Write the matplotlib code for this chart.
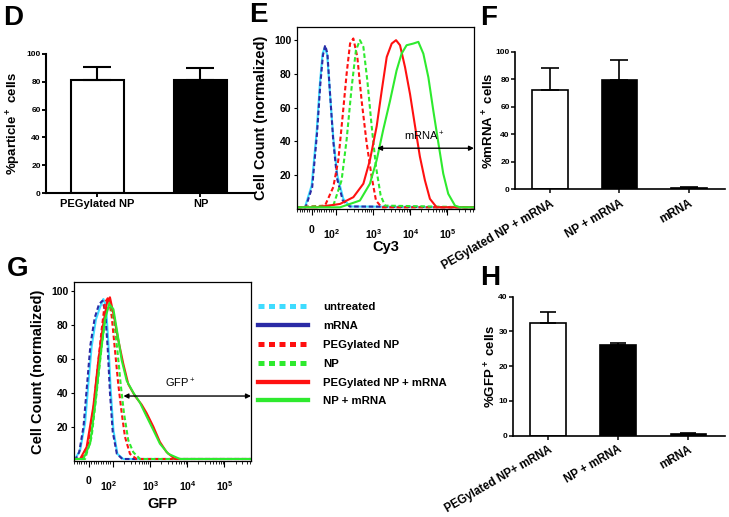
import numpy as np
import matplotlib.pyplot as plt
from matplotlib.lines import Line2D

plt.rcParams['font.family'] = ['Liberation Sans', 'DejaVu Sans']
plt.rcParams['font.weight'] = 'bold'
plt.rcParams['axes.labelweight'] = 'bold'

# ---- bar chart data ----
d_groups = ['PEGylated NP', 'NP']
d_mean = [81, 81]
d_err = [10, 9]

f_groups = ['PEGylated NP + mRNA', 'NP + mRNA', 'mRNA']
f_mean = [72, 79.5, 0.8]
f_err = [16.5, 14.5, 0.7]

h_groups = ['PEGylated NP+ mRNA', 'NP + mRNA', 'mRNA']
h_mean = [32.5, 26.0, 0.6]
h_err = [3.1, 0.7, 0.1]

# ---- flow histograms (channel 0-1024, normalized count) ----
e_ch_untreated = [0, 46, 85, 114, 133, 148, 162, 175, 191, 210, 233, 268, 307, 1024]
e_ct_untreated = [1, 1, 14, 46, 75, 92, 96, 91, 68, 42, 20, 6, 1.5, 1]
e_ch_mrna = [0, 50, 88, 116, 135, 150, 163, 176, 192, 210, 232, 265, 305, 1024]
e_ct_mrna = [1, 1, 13, 45, 74, 91, 97, 92, 67, 40, 18, 5, 1.5, 1]
e_ch_peg = [0, 162, 210, 239, 264, 287, 307, 326, 349, 374, 403, 432, 457, 490, 1024]
e_ct_peg = [1, 2, 13, 29, 55, 80, 98, 101, 90, 64, 39, 19, 5, 1, 1]
e_ch_np = [0, 210, 258, 287, 316, 341, 364, 384, 407, 432, 457, 484, 509, 1024]
e_ct_np = [1, 2, 17, 41, 72, 94, 100, 96, 76, 49, 25, 8, 2, 1]
e_ch_peg_mrna = [0, 114, 249, 326, 384, 422, 461, 490, 519, 548, 573, 596, 625, 654,
                 683, 711, 740, 769, 808, 1024]
e_ct_peg_mrna = [1, 1, 3, 7, 15, 29, 49, 70, 90, 98, 100, 97, 84, 68, 49, 31, 17, 6, 1, 1]
e_ch_np_mrna = [0, 249, 364, 422, 461, 499, 538, 576, 605, 634, 673, 702, 731, 760, 789,
                818, 846, 875, 914, 943, 1024]
e_ct_np_mrna = [1, 1, 5, 15, 29, 47, 64, 82, 92, 97, 98, 99, 92, 78, 58, 39, 21, 9, 2, 1, 1]

g_ch_untreated = [0, 6, 35, 64, 83, 102, 127, 150, 170, 185, 199, 212, 228, 251, 285, 1024]
g_ct_untreated = [1, 1, 6, 22, 45, 67, 83, 90, 95, 91, 69, 42, 18, 4, 1, 1]
g_ch_mrna = [0, 10, 30, 55, 75, 95, 120, 145, 165, 180, 195, 208, 224, 248, 280, 1024]
g_ct_mrna = [1, 1, 5, 20, 44, 68, 84, 92, 94, 88, 66, 40, 17, 4, 1, 1]
g_ch_peg = [0, 44, 83, 112, 135, 160, 179, 199, 218, 237, 256, 276, 295, 324, 362, 1024]
g_ct_peg = [1, 1, 10, 30, 53, 77, 93, 96, 85, 65, 45, 28, 14, 4, 1, 1]
g_ch_np = [0, 64, 102, 131, 160, 185, 208, 231, 251, 270, 289, 314, 343, 382, 1024]
g_ct_np = [1, 1, 14, 40, 67, 87, 93, 83, 65, 45, 28, 12, 5, 1, 1]
g_ch_peg_mrna = [0, 35, 73, 112, 141, 170, 193, 208, 231, 256, 285, 314, 353, 391, 420,
                 459, 497, 536, 584, 1024]
g_ct_peg_mrna = [1, 1, 8, 32, 59, 81, 94, 96, 85, 71, 57, 45, 38, 33, 28, 20, 11, 5, 1, 1]
g_ch_np_mrna = [0, 54, 93, 121, 150, 179, 204, 228, 251, 276, 305, 343, 382, 420, 459,
                497, 546, 613, 1024]
g_ct_np_mrna = [1, 1, 10, 32, 59, 83, 92, 89, 75, 59, 47, 40, 34, 26, 18, 10, 4, 1, 1]

# axis labels of the logicle scale (channel where label sits)
decade_labels = ['0', r'$\mathregular{10^2}$', r'$\mathregular{10^3}$',
                 r'$\mathregular{10^4}$', r'$\mathregular{10^5}$']
decade_label_ch = [85, 203, 443, 658, 873]
decade_ch = [225, 440, 655, 870]
zero_ch = 85

legend_labels = ['untreated', 'mRNA', 'PEGylated NP', 'NP',
                 'PEGylated NP + mRNA', 'NP + mRNA']

CYAN = '#3fdcff'
BLUE = '#2b2ba6'
RED = '#ff1010'
GREEN = '#2eea2e'
DASH = (0, (2.2, 1.3))

W, H = 729, 517
fig = plt.figure(figsize=(W / 100, H / 100), dpi=100)


def add_ax(x0, y0, x1, y1):
    return fig.add_axes([x0 / W, 1 - y1 / H, (x1 - x0) / W, (y1 - y0) / H])


def bar_panel(ax, groups, means, errs, colors, ymax, yticks, ylabel, lw, capsize,
              rot, lab_x, xfs, xpad):
    x = np.arange(len(groups))
    ax.bar(x, means, width=0.51, color=colors, edgecolor='black', linewidth=lw, zorder=2)
    ax.errorbar(x, means, yerr=[np.zeros(len(x)), errs], fmt='none', ecolor='black',
                elinewidth=lw, capsize=capsize, capthick=lw, zorder=3)
    ax.set_xlim(-0.5, len(groups) - 0.48)
    ax.set_ylim(0, ymax)
    ax.set_yticks(yticks)
    ax.tick_params(axis='y', labelsize=6, length=3, width=lw * 0.9, pad=0.8)
    ax.tick_params(axis='x', length=3, width=lw * 0.9, pad=xpad)
    if rot:
        ax.set_xticks(x, groups, rotation=rot, ha='right', va='top',
                      rotation_mode='anchor', fontsize=xfs)
    else:
        ax.set_xticks(x, groups, fontsize=xfs)
    for s in ['top', 'right']:
        ax.spines[s].set_visible(False)
    for s in ['left', 'bottom']:
        ax.spines[s].set_linewidth(lw)
    ax.set_ylabel(ylabel, fontsize=9.5)
    ax.yaxis.set_label_coords(lab_x, 0.5)


def hist_panel(ax, curves, ymax, xlabel, arrow_from, arrow_y, gate_text, gate_xy,
               xlab_y):
    for ch, ct, col, ls in curves:
        ax.plot(ch, ct, color=col, lw=1.5, linestyle=ls)
    ax.set_xlim(0, 1024)
    ax.set_ylim(0, ymax)
    ax.set_yticks([20, 40, 60, 80, 100])
    ax.tick_params(axis='y', labelsize=7.5, length=2, pad=2)
    # logicle-like minor ticks
    minor = [zero_ch + (decade_ch[0] - zero_ch) * k / 10 for k in range(-8, 10)]
    for d in decade_ch:
        minor += [d + 215 * np.log10(k) for k in range(2, 10) if d + 215 * np.log10(k) < 1024]
    ax.set_xticks([zero_ch] + decade_ch)
    ax.set_xticklabels([])
    ax.set_xticks([m for m in minor if 0 < m < 1024], minor=True)
    ax.tick_params(axis='x', which='major', length=4, width=0.8)
    ax.tick_params(axis='x', which='minor', length=2, width=0.6)
    for s in ax.spines.values():
        s.set_linewidth(0.9)
    tr = ax.get_xaxis_transform()
    for lab, c in zip(decade_labels, decade_label_ch):
        yy = -0.115 if lab == '0' else -0.14
        ax.text(c, yy, lab, transform=tr, ha='center', va='center', fontsize=7.5)
    ax.set_ylabel('Cell Count (normalized)', fontsize=10.5)
    ax.yaxis.set_label_coords(-0.165, 0.5)
    ax.set_xlabel(xlabel, fontsize=10.5)
    ax.xaxis.set_label_coords(0.5, xlab_y)
    ax.annotate('', xy=(1024, arrow_y), xytext=(arrow_from, arrow_y),
                arrowprops=dict(arrowstyle='<|-|>', color='black', lw=1.0,
                                mutation_scale=7, shrinkA=0, shrinkB=0))
    ax.text(gate_xy[0], gate_xy[1], gate_text, ha='center', va='center',
            fontsize=8, fontweight='normal')


# ---- D ----
axD = add_ax(46, 54, 254, 193)
bar_panel(axD, d_groups, d_mean, d_err, ['white', 'black'], 100, range(0, 101, 20),
          r'%particle$\mathregular{^+}$ cells', 1.5, 10, 0, -0.11, 8, 1)

# ---- F ----
axF = add_ax(515, 51.7, 725, 189.3)
bar_panel(axF, f_groups, f_mean, f_err, ['white', 'black', 'black'], 100,
          range(0, 101, 20), r'%mRNA$\mathregular{^+}$ cells', 1.2, 6.5, 30, -0.09,
          8.5, 3)

# ---- H ----
axH = add_ax(513, 296.7, 725, 435.7)
bar_panel(axH, h_groups, h_mean, h_err, ['white', 'black', 'black'], 40,
          range(0, 41, 10), r'%GFP$\mathregular{^+}$ cells', 1.2, 5.5, 30, -0.07,
          8.3, 2.5)

# ---- E ----
axE = add_ax(297, 27, 474, 209)
hist_panel(axE, [(e_ch_untreated, e_ct_untreated, CYAN, '-'),
                 (e_ch_mrna, e_ct_mrna, BLUE, DASH),
                 (e_ch_peg, e_ct_peg, RED, DASH),
                 (e_ch_np, e_ct_np, GREEN, DASH),
                 (e_ch_peg_mrna, e_ct_peg_mrna, RED, '-'),
                 (e_ch_np_mrna, e_ct_np_mrna, GREEN, '-')],
           107.8, 'Cy3', 463, 36, r'mRNA$\mathregular{^+}$', (735, 43), -0.17)

# ---- G ----
axG = add_ax(74, 282, 251, 460.7)
hist_panel(axG, [(g_ch_untreated, g_ct_untreated, CYAN, '-'),
                 (g_ch_mrna, g_ct_mrna, BLUE, DASH),
                 (g_ch_peg, g_ct_peg, RED, DASH),
                 (g_ch_np, g_ct_np, GREEN, DASH),
                 (g_ch_peg_mrna, g_ct_peg_mrna, RED, '-'),
                 (g_ch_np_mrna, g_ct_np_mrna, GREEN, '-')],
           105, 'GFP', 286, 38, r'GFP$\mathregular{^+}$', (613, 45.5), -0.205)

# ---- legend ----
dots = (0, (1.2, 0.9))
handles = [Line2D([], [], color=CYAN, lw=3.6, linestyle=dots),
           Line2D([], [], color=BLUE, lw=3.1),
           Line2D([], [], color=RED, lw=3.6, linestyle=dots),
           Line2D([], [], color=GREEN, lw=3.6, linestyle=dots),
           Line2D([], [], color=RED, lw=3.1),
           Line2D([], [], color=GREEN, lw=3.1)]
fig.legend(handles, legend_labels, loc='upper left', bbox_to_anchor=(258 / W, 1 - 302 / H),
           frameon=False, fontsize=8.2, handlelength=4.4, handletextpad=1.3,
           labelspacing=0.78, borderpad=0, borderaxespad=0)

# ---- panel letters ----
for lab, x, y in [('D', 3, 5), ('E', 249, 2), ('F', 480, 5), ('G', 7, 256), ('H', 480, 265)]:
    fig.text(x / W, 1 - y / H, lab, fontsize=20, fontweight='bold', ha='left', va='top')

fig.savefig('out.png', dpi=100)
